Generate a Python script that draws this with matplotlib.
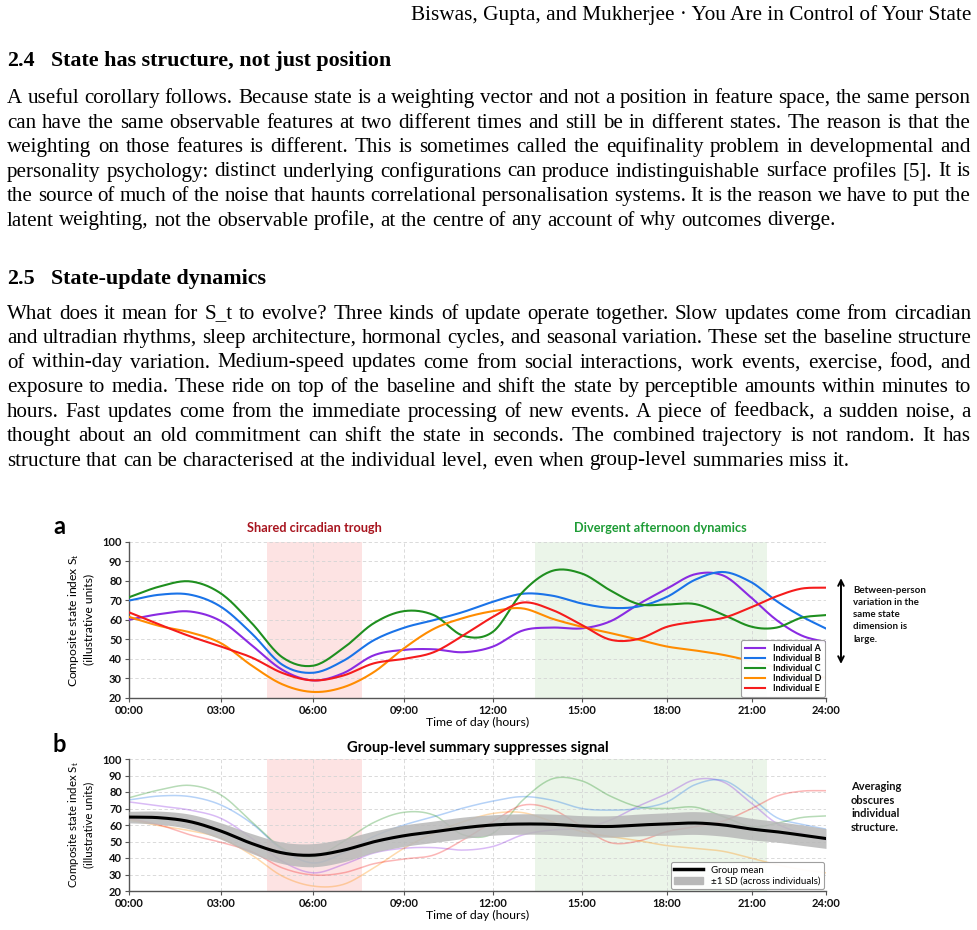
import numpy as np
import matplotlib
matplotlib.use('Agg')
import matplotlib.pyplot as plt
from matplotlib.lines import Line2D
from matplotlib.patches import Patch

# ---------------- data ----------------
HOURS = list(range(25))
# panel a: individual trajectories
IND_A = [60, 62.9, 64.2, 59.3, 47, 34.4, 29, 32.7, 41.8, 44.6, 44.9, 43.4, 46.3,
         54.5, 56, 55.6, 59.2, 68, 75.9, 83.3, 82.5, 71, 59.8, 52, 48.5]
IND_B = [69.8, 72.8, 72.8, 66.6, 53, 37, 32.9, 39, 49.5, 55.9, 59.8, 64, 69.2,
         73.3, 72.3, 68.3, 66.1, 66.8, 71.7, 80.5, 84.4, 79, 69.5, 61.8, 55.5]
IND_C = [71.5, 77, 79.6, 73.4, 58.3, 40.8, 36.5, 45.5, 58.2, 64.4, 62.4, 51.8, 53.9,
         74.2, 85, 83.6, 75, 68, 67.8, 68, 62.5, 56.4, 56, 61, 62.4]
IND_D = [61.5, 56.8, 53.5, 48, 36.6, 27, 23.1, 25.5, 33.2, 45.4, 55.3, 60.9, 64.4,
         65.8, 60.5, 56.4, 53.2, 49.8, 46.3, 44.3, 42, 38.8, 35.5, 32.5, 30.4]
IND_E = [63.8, 57.5, 51.5, 46.3, 40.7, 32.8, 29, 31.5, 37.7, 40, 43.4, 52, 61.5,
         68.8, 65, 57.3, 49.8, 50.2, 56.4, 59, 61, 66.5, 72, 75.9, 76.4]
# panel b: faded individual trajectories as drawn behind the summary
B_IND_A = [74, 71.5, 69, 64, 52, 38, 31, 36, 43, 45.9, 46.3, 44.8, 47,
           54, 57, 58, 63, 71.5, 79, 87.5, 86, 73, 61, 55, 51]
B_IND_B = [75.2, 77.6, 77.2, 72.1, 61, 45, 37, 43, 53, 60, 65, 70.3, 74.5,
           77.2, 75, 70, 69, 70, 74, 84.5, 87, 76.2, 64.5, 60.5, 57.5]
B_IND_C = [76.5, 81.3, 84, 78.2, 62, 46, 40.5, 50, 61.5, 67.7, 66, 54, 55,
           75, 88, 86.7, 77.5, 71, 70, 70.8, 65, 59, 61, 64.5, 65.5]
B_IND_D = [63, 59.5, 56.5, 52, 41.8, 29, 23, 24, 34, 45.9, 55, 62, 67,
           67.5, 62, 56, 53, 50.5, 47.5, 45.9, 44, 39.8, 36, 33, 31]
B_IND_E = [64, 60, 54, 49.5, 43.8, 34, 29.7, 31, 36.5, 39.4, 41.8, 51, 62,
           72, 69.5, 59, 49.3, 50.3, 56, 59, 62.5, 70, 77.5, 80.5, 80.8]
GROUP_MEAN = [64.8, 64.4, 62, 56.3, 48.8, 43.1, 41.7, 44.7, 49.8, 53.5, 55.9, 58.3, 60,
              60.6, 60.4, 59.4, 59.1, 60, 60.6, 61.2, 60, 57.5, 55.9, 53.9, 51.8]
GROUP_SD = [3.5, 4, 4.5, 5, 6, 6.5, 7, 7, 6.5, 6.5, 6.5, 6.5, 6.2,
            6.2, 6.2, 6.3, 6.5, 6.6, 6.8, 6.9, 6.8, 6.5, 6.3, 6.2, 6]
NAMES = ['Individual A', 'Individual B', 'Individual C', 'Individual D', 'Individual E']
SERIES_A = [IND_A, IND_B, IND_C, IND_D, IND_E]
SERIES_B = [B_IND_A, B_IND_B, B_IND_C, B_IND_D, B_IND_E]
COLORS = ['#8a2be2', '#1a73e8', '#1f8f1f', '#ff8c00', '#f51c1c']
XTICKS = [0, 3, 6, 9, 12, 15, 18, 21, 24]
XTICKLABELS = ['00:00', '03:00', '06:00', '09:00', '12:00', '15:00', '18:00', '21:00', '24:00']
YTICKS = [20, 30, 40, 50, 60, 70, 80, 90, 100]
TROUGH = (4.5, 7.6)
AFTERNOON = (13.4, 21.6)

HEADER = 'Biswas, Gupta, and Mukherjee \u00b7 You Are in Control of Your State'
H24 = ('2.4', 'State has structure, not just position')
PARA1 = [
    'A useful corollary follows. Because state is a weighting vector and not a position in feature space, the same person',
    'can have the same observable features at two different times and still be in different states. The reason is that the',
    'weighting on those features is different. This is sometimes called the equifinality problem in developmental and',
    'personality psychology: distinct underlying configurations can produce indistinguishable surface profiles [5]. It is',
    'the source of much of the noise that haunts correlational personalisation systems. It is the reason we have to put the',
    'latent weighting, not the observable profile, at the centre of any account of why outcomes diverge.',
]
H25 = ('2.5', 'State-update dynamics')
PARA2 = [
    'What does it mean for S_t to evolve? Three kinds of update operate together. Slow updates come from circadian',
    'and ultradian rhythms, sleep architecture, hormonal cycles, and seasonal variation. These set the baseline structure',
    'of within-day variation. Medium-speed updates come from social interactions, work events, exercise, food, and',
    'exposure to media. These ride on top of the baseline and shift the state by perceptible amounts within minutes to',
    'hours. Fast updates come from the immediate processing of new events. A piece of feedback, a sudden noise, a',
    'thought about an old commitment can shift the state in seconds. The combined trajectory is not random. It has',
    'structure that can be characterised at the individual level, even when group-level summaries miss it.',
]

# horizontal placement of the hour ticks along the axis (layout, in pixels from the left spine)
X_TICK_POS = [0, 92, 184, 275, 364, 453, 538, 623, 697]

# ---------------- setup ----------------
plt.rcParams['font.family'] = ['Lato', 'DejaVu Sans']
plt.rcParams['mathtext.fontset'] = 'custom'
plt.rcParams['mathtext.rm'] = 'Lato'
plt.rcParams['mathtext.it'] = 'Lato'

W, H = 978, 930
fig = plt.figure(figsize=(W / 100, H / 100), dpi=100)
fig.patch.set_facecolor('white')
renderer = fig.canvas.get_renderer()
SERIF = ['Liberation Serif', 'DejaVu Serif']


def fx(px):
    return px / W


def fy(py):
    return 1 - py / H


def measure(s, size, weight='normal'):
    t = fig.text(0, 0, s, fontsize=size, family=SERIF, weight=weight)
    w = t.get_window_extent(renderer=renderer).width
    t.remove()
    return w


LEFT, RIGHT = 7, 971
body_size = 10 * (832 - LEFT) / measure(PARA1[-1], 10)
head_size = 10 * (391 - 51) / measure(H24[1], 10, 'bold')
hdr_size = 10 * (971 - 412) / measure(HEADER, 10)
space_w = measure('a a', body_size) - measure('aa', body_size)


def draw_line(line, y, justify):
    words = line.split(' ')
    widths = [measure(w, body_size) for w in words]
    if justify and len(words) > 1:
        gap = (RIGHT - LEFT - sum(widths)) / (len(words) - 1)
    else:
        gap = space_w
    x = LEFT
    for wd_text, wd in zip(words, widths):
        fig.text(fx(x), fy(y), wd_text, fontsize=body_size, family=SERIF,
                 va='baseline', ha='left', color='black')
        x += wd + gap


fig.text(fx(971), fy(20), HEADER, fontsize=hdr_size, family=SERIF, ha='right', va='baseline')
for num, title, yb in [(H24[0], H24[1], 66), (H25[0], H25[1], 284)]:
    fig.text(fx(LEFT), fy(yb), num, fontsize=head_size, family=SERIF, weight='bold', va='baseline')
    fig.text(fx(51), fy(yb), title, fontsize=head_size, family=SERIF, weight='bold', va='baseline')

for i, (line, yb) in enumerate(zip(PARA1, [103, 127.5, 152, 176.5, 201, 225.5])):
    draw_line(line, yb, i < len(PARA1) - 1)
for i, (line, yb) in enumerate(zip(PARA2, [318.5, 343, 367.5, 392, 416.5, 441, 465.5])):
    draw_line(line, yb, i < len(PARA2) - 1)


# ---------------- charts ----------------
def smooth(x, y, n=16):
    P = np.column_stack([np.asarray(x, float), np.asarray(y, float)])
    P = np.vstack([2 * P[0] - P[1], P, 2 * P[-1] - P[-2]])
    t = np.linspace(0, 1, n, endpoint=False)[:, None]
    out = []
    for i in range(1, len(P) - 2):
        p0, p1, p2, p3 = P[i - 1], P[i], P[i + 1], P[i + 2]
        seg = 0.5 * (2 * p1 + (-p0 + p2) * t + (2 * p0 - 5 * p1 + 4 * p2 - p3) * t ** 2
                     + (-p0 + 3 * p1 - 3 * p2 + p3) * t ** 3)
        out.append(seg)
    out.append(P[-2][None, :])
    out = np.vstack(out)
    return out[:, 0], out[:, 1]


def fwd(h):
    return np.interp(h, XTICKS, X_TICK_POS)


def inv(p):
    return np.interp(p, X_TICK_POS, XTICKS)


def style(ax):
    ax.set_xscale('function', functions=(fwd, inv))
    ax.set_xlim(0, 24)
    ax.set_ylim(20, 100)
    ax.set_xticks(XTICKS)
    ax.set_xticklabels(XTICKLABELS)
    ax.set_yticks(YTICKS)
    ax.minorticks_off()
    ax.grid(True, ls=(0, (4, 3)), lw=0.6, color='#d4d4d4')
    ax.set_axisbelow(True)
    for s in ['top', 'right']:
        ax.spines[s].set_visible(False)
    for s in ['left', 'bottom']:
        ax.spines[s].set_color('#555555')
        ax.spines[s].set_linewidth(1.0)
    ax.tick_params(labelsize=8, length=3, width=0.8, colors='#555555', labelcolor='#111111', pad=2)
    for lab in ax.get_xticklabels() + ax.get_yticklabels():
        lab.set_fontweight('bold')
    ax.axvspan(*TROUGH, color='#fde3e3', lw=0, zorder=0)
    ax.axvspan(*AFTERNOON, color='#ebf5e9', lw=0, zorder=0)


axA = fig.add_axes([fx(129), fy(698), (826 - 129) / W, (698 - 541.5) / H])
axB = fig.add_axes([fx(129), fy(891), (826 - 129) / W, (891 - 759) / H])
style(axA)
style(axB)

for name, vals, col in zip(NAMES, SERIES_A, COLORS):
    xs, ys = smooth(HOURS, vals)
    axA.plot(xs, ys, color=col, lw=1.5, label=name, zorder=3)
for vals, col in zip(SERIES_B, COLORS):
    xs, ys = smooth(HOURS, vals)
    axB.plot(xs, ys, color=col, lw=1.1, alpha=0.32, zorder=2)

YLABEL = 'Composite state index $\\mathrm{S}_t$\n(illustrative units)'
axA.set_xlabel('Time of day (hours)', fontsize=8.8, labelpad=1)
axA.set_ylabel(YLABEL, fontsize=8.7, labelpad=6)
legA = axA.legend(loc='lower right', prop={'size': 6.5, 'weight': 'bold'}, frameon=True,
                  framealpha=0.95, edgecolor='#9a9a9a', handlelength=2.3, borderpad=0.4,
                  labelspacing=0.12, handletextpad=0.8, borderaxespad=0.15)
legA.get_frame().set_linewidth(0.8)

axA.text(sum(TROUGH) / 2, 1.086, 'Shared circadian trough', transform=axA.get_xaxis_transform(),
         ha='center', va='center', fontsize=9.2, weight='bold', color='#a8141e')
axA.text(17.75, 1.086, 'Divergent afternoon dynamics', transform=axA.get_xaxis_transform(),
         ha='center', va='center', fontsize=9.2, weight='bold', color='#1e9c36')
axA.annotate('', xy=(1.0215, 0.766), xytext=(1.0215, 0.2175), xycoords='axes fraction',
             arrowprops=dict(arrowstyle='<->', lw=1.4, color='black', mutation_scale=10,
                             shrinkA=0, shrinkB=0), annotation_clip=False)
fig.text(fx(853), fy(586), 'Between-person\nvariation in the\nsame state\ndimension is\nlarge.',
         fontsize=7, ha='left', va='top', linespacing=1.45, weight='bold', color='#111111')

xm, ym = smooth(HOURS, GROUP_MEAN)
_, sd = smooth(HOURS, GROUP_SD)
axB.fill_between(xm, ym - sd, ym + sd, color='#b8b8b8', alpha=0.85, lw=0, zorder=3)
axB.plot(xm, ym, color='black', lw=2.2, zorder=4)
axB.set_xlabel('Time of day (hours)', fontsize=8.8, labelpad=1)
axB.set_ylabel(YLABEL, fontsize=8.3, labelpad=6)
axB.set_title('Group-level summary suppresses signal', fontsize=10.7, weight='bold', pad=5)
handles = [Line2D([], [], color='black', lw=2.5), Patch(color='#b8b8b8')]
legB = axB.legend(handles, ['Group mean', '\u00b11 SD (across individuals)'], loc='lower right',
                  prop={'size': 7}, frameon=True, framealpha=0.95, edgecolor='#9a9a9a',
                  handlelength=3.0, borderpad=0.35, labelspacing=0.2, borderaxespad=0.2)
legB.get_frame().set_linewidth(0.8)
fig.text(fx(851), fy(781), 'Averaging\nobscures\nindividual\nstructure.', fontsize=8,
         ha='left', va='top', linespacing=1.3, weight='bold', color='#111111')

fig.text(fx(53), fy(527), 'a', fontsize=17, weight='bold', ha='left', va='center')
fig.text(fx(53), fy(745), 'b', fontsize=17, weight='bold', ha='left', va='center')

fig.savefig('out.png', dpi=100, facecolor='white')
